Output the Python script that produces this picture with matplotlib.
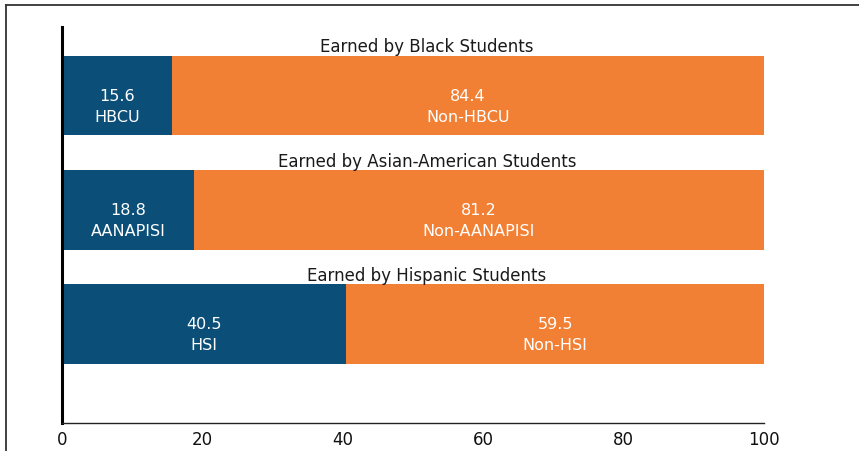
"""
Share of degrees earned at minority-serving institutions vs. elsewhere,
by student group — stacked horizontal bars.
"""
import matplotlib
matplotlib.use("Agg")
import matplotlib.pyplot as plt
from matplotlib.lines import Line2D

OUTPUT_PATH = "out.png"

# ── Data ──────────────────────────────────────────────────────────────────────
GROUPS = [
    "Earned by Black Students",
    "Earned by Asian-American Students",
    "Earned by Hispanic Students",
]
MSI_LABELS = ["HBCU", "AANAPISI", "HSI"]
NON_LABELS = ["Non-HBCU", "Non-AANAPISI", "Non-HSI"]
MSI_SHARE = [15.6, 18.8, 40.5]
NON_SHARE = [84.4, 81.2, 59.5]
X_TICKS = [0, 20, 40, 60, 80, 100]

BLUE = "#0b4f79"
ORANGE = "#f28034"
FONT = "DejaVu Sans"


def draw_chart():
    fig = plt.figure(figsize=(8.59, 4.52), dpi=100)
    fig.patch.set_facecolor("white")
    ax = fig.add_axes([0.0722, 0.0619, 0.8172, 0.876])

    ypos = list(range(len(GROUPS)))
    ax.barh(ypos, MSI_SHARE, height=0.7, color=BLUE, linewidth=0)
    ax.barh(ypos, NON_SHARE, left=MSI_SHARE, height=0.7, color=ORANGE, linewidth=0)

    ax.set_xlim(0, 100)
    ax.set_ylim(2.87, -0.6)

    # ── Labels inside segments and group titles ──────────────────────────────
    for i in ypos:
        m = MSI_SHARE[i]
        n = NON_SHARE[i]
        for xc, val, lab in ((m / 2, m, MSI_LABELS[i]),
                             (m + n / 2, n, NON_LABELS[i])):
            ax.text(xc, i + 0.0, f"{val:.1f}", ha="center", va="center",
                    color="white", fontsize=11.5, family=FONT)
            ax.text(xc, i + 0.18, lab, ha="center", va="center",
                    color="white", fontsize=11.5, family=FONT)
        ax.text(52, i - 0.43, GROUPS[i], ha="center", va="center",
                color="#1a1a1a", fontsize=12, family=FONT)

    # ── Axes styling ─────────────────────────────────────────────────────────
    ax.set_yticks([])
    ax.set_xticks(X_TICKS)
    ax.set_xticklabels([str(t) for t in X_TICKS], fontsize=12,
                       family=FONT, color="#111111")
    ax.tick_params(axis="x", length=0, pad=5)
    for side in ("top", "right"):
        ax.spines[side].set_visible(False)
    ax.spines["left"].set_linewidth(2.2)
    ax.spines["left"].set_color("black")
    ax.spines["bottom"].set_linewidth(1.0)
    ax.spines["bottom"].set_color("#222222")

    # ── Frame remnants (top and left edge) ───────────────────────────────────
    top = 1 - 5.5 / 452
    left = 5.5 / 859
    fig.add_artist(Line2D([left, 1], [top, top], transform=fig.transFigure,
                          color="#333333", linewidth=1.3))
    fig.add_artist(Line2D([left, left], [0, top], transform=fig.transFigure,
                          color="#333333", linewidth=1.3))

    fig.savefig(OUTPUT_PATH, dpi=100, facecolor="white")
    plt.close(fig)


if __name__ == "__main__":
    draw_chart()
